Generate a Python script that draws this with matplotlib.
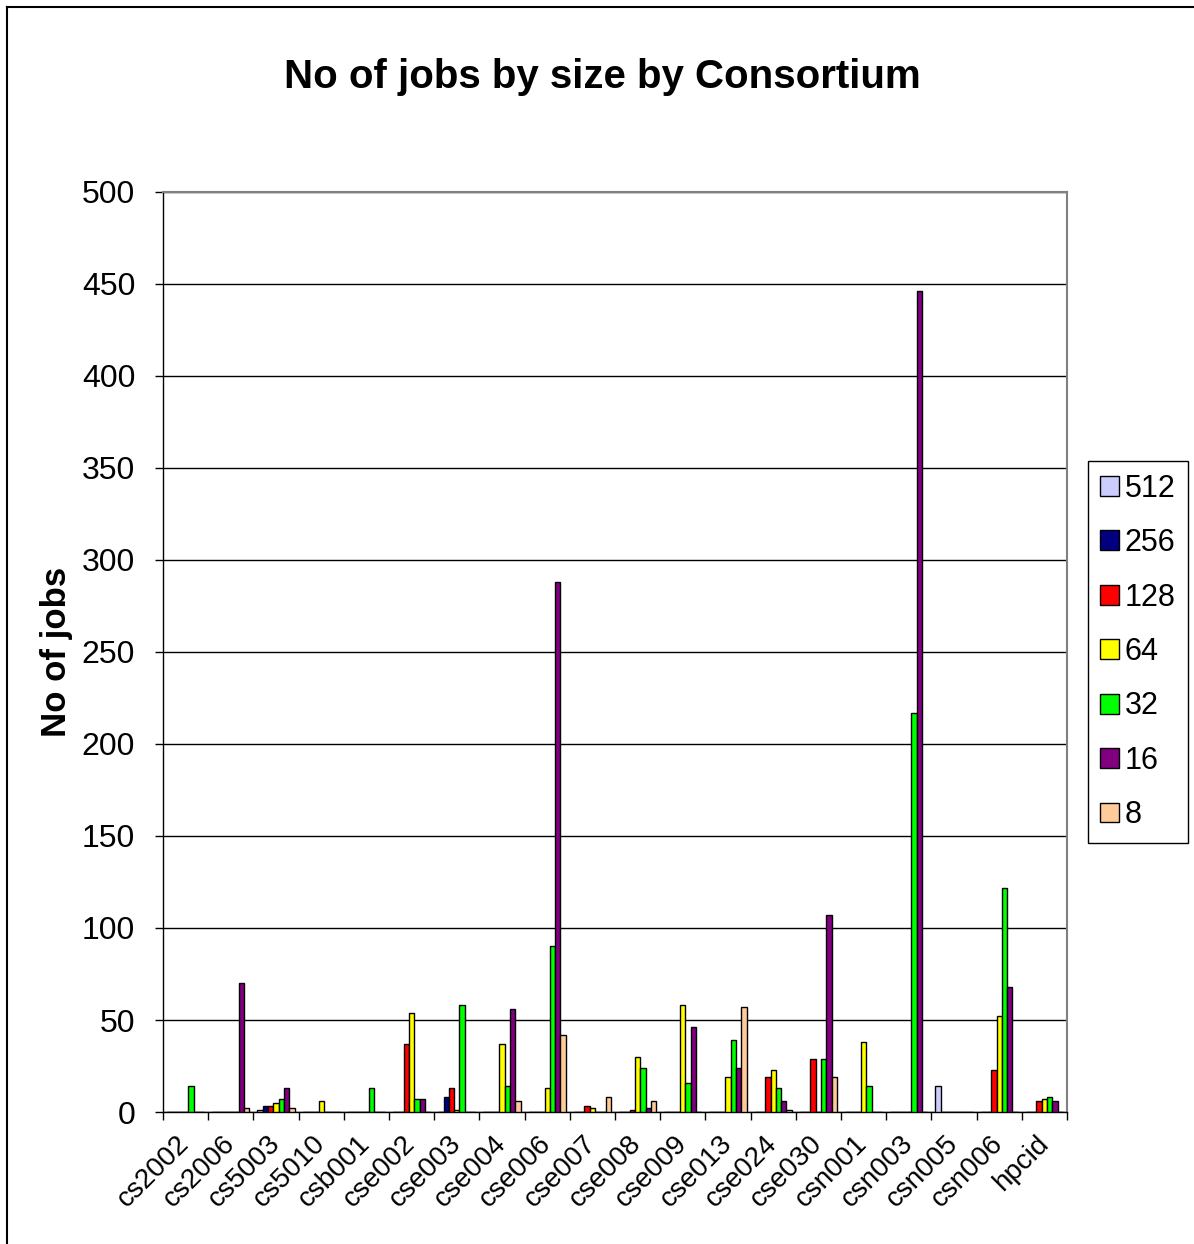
import numpy as np
import matplotlib
matplotlib.use("Agg")
import matplotlib.pyplot as plt
from matplotlib.lines import Line2D

plt.rcParams["font.family"] = ["Liberation Sans", "DejaVu Sans"]

consortia = ["cs2002", "cs2006", "cs5003", "cs5010", "csb001", "cse002", "cse003",
             "cse004", "cse006", "cse007", "cse008", "cse009", "cse013", "cse024",
             "cse030", "csn001", "csn003", "csn005", "csn006", "hpcid"]

sizes = ["512", "256", "128", "64", "32", "16", "8"]
size_colors = ["#CCCCFF", "#000080", "#FF0000", "#FFFF00", "#00FF00", "#800080", "#FFCC99"]

# jobs per consortium, one list per job size
jobs_512 = [0, 0, 1, 0, 0, 0, 0, 0, 0, 0, 0, 0, 0, 0, 0, 0, 0, 14, 0, 0]
jobs_256 = [0, 0, 3, 0, 0, 0, 8, 0, 0, 0, 0, 0, 0, 0, 0, 0, 0, 0, 0, 0]
jobs_128 = [0, 0, 3, 0, 0, 37, 13, 0, 0, 3, 1, 0, 0, 19, 29, 0, 0, 0, 23, 6]
jobs_64 = [0, 0, 5, 6, 0, 54, 1, 37, 13, 2, 30, 58, 19, 23, 0, 38, 0, 0, 52, 7]
jobs_32 = [14, 0, 7, 0, 13, 7, 58, 14, 90, 0, 24, 16, 39, 13, 29, 14, 217, 0, 122, 8]
jobs_16 = [0, 70, 13, 0, 0, 7, 0, 56, 288, 0, 2, 46, 24, 6, 107, 0, 446, 0, 68, 6]
jobs_8 = [0, 2, 2, 0, 0, 0, 0, 6, 42, 8, 6, 0, 57, 1, 19, 0, 0, 0, 0, 0]

series = [jobs_512, jobs_256, jobs_128, jobs_64, jobs_32, jobs_16, jobs_8]

W, H = 1194, 1244
fig = plt.figure(figsize=(W / 100, H / 100), dpi=100)
ax = fig.add_axes([163 / W, 1 - 1112 / H, (1067 - 163) / W, (1112 - 192) / H])

n = len(sizes)
gap = 1.5
bw = 1.0 / (n + gap)
x = np.arange(len(consortia))
for j, (vals, col, lab) in enumerate(zip(series, size_colors, sizes)):
    pos = x + (gap / 2 + j + 0.5) * bw
    ax.bar(pos, vals, width=bw, color=col, edgecolor="black", linewidth=1.0,
           label=lab, zorder=3)

ax.set_xlim(0, len(consortia))
ax.set_ylim(0, 500)
ax.set_yticks(np.arange(0, 501, 50))
ax.yaxis.grid(True, color="black", linewidth=1.0, zorder=0)
ax.set_axisbelow(True)

ax.set_xticks(np.arange(0, len(consortia) + 1))
ax.set_xticklabels([])
ax.set_xticks(x + 0.5, minor=True)
ax.set_xticklabels(consortia, minor=True, rotation=45, ha="right",
                   va="center", rotation_mode="anchor", fontsize=20)
ax.tick_params(axis="x", which="minor", length=0, pad=20)
ax.tick_params(axis="x", which="major", direction="out", length=6, width=1)
ax.tick_params(axis="y", direction="out", length=6, width=1, pad=14, labelsize=23)

for side in ["top", "right"]:
    ax.spines[side].set_color("#808080")
    ax.spines[side].set_linewidth(1.5)
for side in ["left", "bottom"]:
    ax.spines[side].set_color("black")
    ax.spines[side].set_linewidth(1.0)

ax.set_ylabel("No of jobs", fontsize=25, fontweight="bold")
ax.yaxis.set_label_coords(-0.1, 0.5)

fig.text(602 / W, 1 - 77 / H, "No of jobs by size by Consortium",
         fontsize=29, fontweight="bold", ha="center", va="center")

leg = fig.legend(loc="center left", bbox_to_anchor=(1088 / W, 1 - 652 / H),
                 fontsize=22, handlelength=0.62, handleheight=0.62,
                 handletextpad=0.18, labelspacing=0.8, borderpad=0.4,
                 borderaxespad=0, fancybox=False, framealpha=1, edgecolor="black")
leg.get_frame().set_linewidth(1.0)

# outer chart frame (top and left edges visible)
fig.add_artist(Line2D([7 / W, 1], [1 - 7 / H, 1 - 7 / H], color="black", linewidth=1.5))
fig.add_artist(Line2D([7 / W, 7 / W], [0, 1 - 7 / H], color="black", linewidth=1.5))

fig.savefig("out.png", dpi=100)
